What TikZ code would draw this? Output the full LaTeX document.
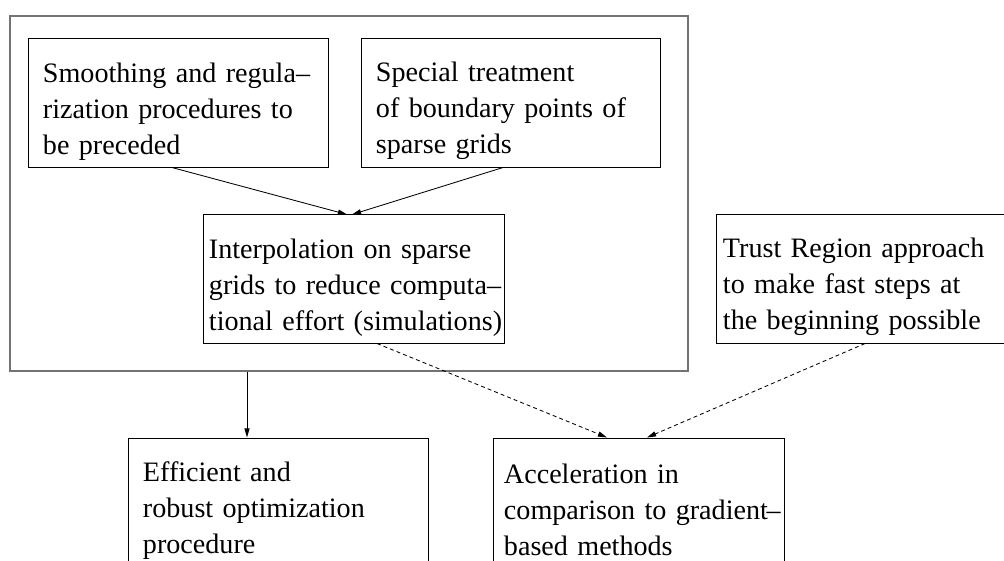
\documentclass[tikz,border=0pt]{standalone}
\usepackage{fontspec}
\setmainfont{Liberation Serif}
\usetikzlibrary{arrows.meta, calc}

\tikzset{
    box/.style = {draw, line width = 0.7pt, align = left, inner ysep = 0pt,
        minimum height = 3.2cm, text height = 25.6pt,
        font = \fontsize{20}{25.6}\selectfont},
    tip/.style = {-{Triangle[length = 6.5pt, width = 3.6pt]}, line width = 0.6pt},
    dashtip/.style = {tip, dash pattern = on 2.8pt off 2.2pt}
}

\begin{document}
\begin{tikzpicture}[x = 0.025cm, y = -0.025cm]
                \useasboundingbox (0,0) rectangle (1004,560);

                \node[draw = black!55, line width = 1pt, minimum width = 16.95cm, minimum height = 8.875cm] (frame) at (349,193.5) {};

                \node[box, inner xsep = 0.35cm, text width = 6.775cm] (smooth) at (178.5,103) {Smoothing and regula--\\rization procedures to\\be preceded};
                \node[box, inner xsep = 0.35cm, text width = 6.75cm] (special) at (511,103) {Special treatment\\of boundary points of\\sparse grids};
                \node[box, inner xsep = 0.125cm, text width = 7.25cm] (interp) at (354,279) {Interpolation on sparse\\\mbox{grids to reduce computa--}\\\mbox{tional effort (simulations)}};
                \node[box, inner xsep = 0.15cm, text width = 7.2cm] (trust) at (867,279) {Trust Region approach\\to make fast steps at\\the beginning possible};
                \node[box, inner xsep = 0.35cm, text width = 6.775cm] (robust) at (278.5,502) {Efficient and\\robust optimization\\procedure};
                \node[box, inner xsep = 0.25cm, text width = 6.75cm] (accel) at (639,502) {Acceleration in\\\mbox{comparison to gradient\kern-1pt--}\\based methods};

                \draw[tip] ($(smooth.south)+(-6.5,0)$) -- ($(interp.north)+(-7,0)$);
                \draw[tip] ($(special.south)+(-8,0)$) -- ($(interp.north)+(-2,0)$);
                \draw[tip] ($(frame.south)+(-102,0)$) -- ($(robust.north)+(-31.5,0)$);
                \draw[dashtip] ($(interp.south)+(23,0)$) -- ($(accel.north)+(-32,0)$);
                \draw[dashtip] ($(trust.south)+(-2,0)$) -- ($(accel.north)+(8,0)$);

            \end{tikzpicture}
\end{document}
